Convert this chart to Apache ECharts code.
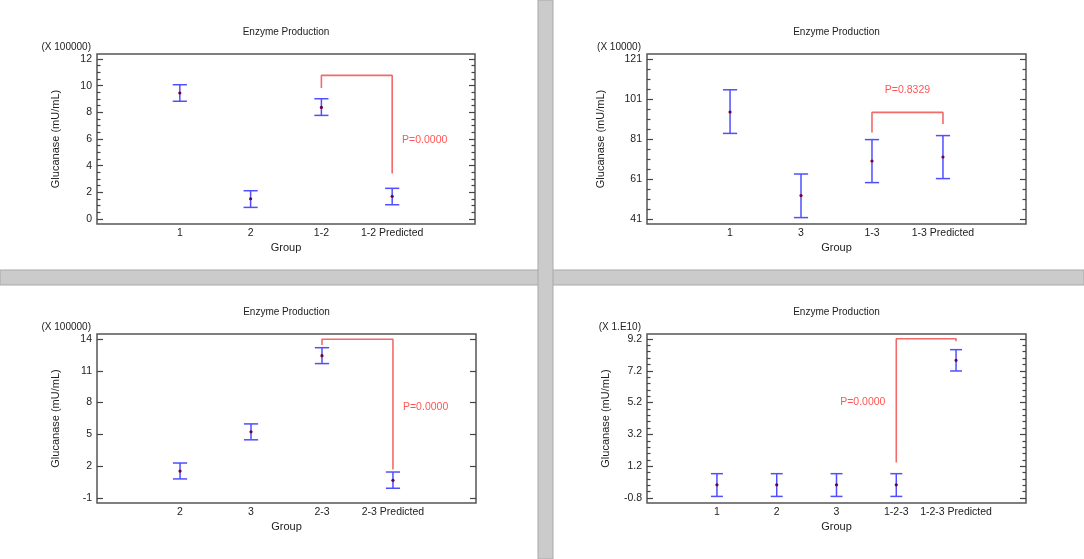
<!DOCTYPE html>
<html>
<head>
<meta charset="utf-8">
<title>Enzyme Production</title>
<style>
	html,body{margin:0;padding:0;background:#fff;}
	#chart{width:1084px;height:559px;}
</style>
</head>
<body>
<div id="chart"></div>
<script src="https://cdn.jsdelivr.net/npm/echarts@6/dist/echarts.min.js"></script>
<script>
// top left: groups 1, 2
var cats1 = ['1', '2', '1-2', '1-2 Predicted'];
var mean1 = [9.45, 1.52, 8.37, 1.70];
var low1 = [8.83, 0.87, 7.77, 1.07];
var high1 = [10.07, 2.12, 9.02, 2.30];
var ticks1 = [0, 2, 4, 6, 8, 10, 12];
var bracketX1 = [3, 4];
var bracketY1 = [9.82, 10.77, 3.42];
var pText1 = 'P=0.0000';
var pAt1 = [4.46, 5.95];

// top right: groups 1, 3
var cats2 = ['1', '3', '1-3', '1-3 Predicted'];
var mean2 = [94.5, 52.7, 70.0, 72.0];
var low2 = [83.8, 41.7, 59.2, 61.2];
var high2 = [105.6, 63.5, 80.7, 82.7];
var ticks2 = [41, 61, 81, 101, 121];
var bracketX2 = [3, 4];
var bracketY2 = [84.3, 94.3, 88.5];
var pText2 = 'P=0.8329';
var pAt2 = [3.5, 105.3];

// bottom left: groups 2, 3
var cats3 = ['2', '3', '2-3', '2-3 Predicted'];
var mean3 = [1.54, 5.24, 12.43, 0.67];
var low3 = [0.80, 4.49, 11.68, -0.08];
var high3 = [2.30, 5.99, 13.18, 1.45];
var ticks3 = [-1, 2, 5, 8, 11, 14];
var bracketX3 = [3, 4];
var bracketY3 = [13.44, 13.97, 1.70];
var pText3 = 'P=0.0000';
var pAt3 = [4.46, 7.55];

// bottom right: groups 1, 2, 3
var cats4 = ['1', '2', '3', '1-2-3', '1-2-3 Predicted'];
var mean4 = [0.03, 0.03, 0.03, 0.03, 7.86];
var low4 = [-0.70, -0.70, -0.70, -0.70, 7.19];
var high4 = [0.73, 0.73, 0.73, 0.73, 8.53];
var ticks4 = [-0.8, 1.2, 3.2, 5.2, 7.2, 9.2];
var bracketX4 = [4, 5];
var bracketY4 = [1.44, 9.22, 9.06];
var pText4 = 'P=0.0000';
var pAt4 = [3.44, 5.23];

var scaleTexts = ['(X 100000)', '(X 10000)', '(X 100000)', '(X 1.E10)'];

var FONT = 'Liberation Sans, Arial, sans-serif';
var BLUE = '#4f4fff';
var DOT = '#70003a';
var RED_LINE = '#f26a6a';
var RED_TEXT = '#ff2a2a';

// plot boxes and per panel look
var boxes = [
	{left: 97, top: 54, width: 378, height: 170},
	{left: 647, top: 54, width: 379, height: 170},
	{left: 97, top: 334, width: 379, height: 169},
	{left: 647, top: 334, width: 379, height: 169}
];
var minorStep = [0.5, 5, 0, 0.4];
var yNameGap = [36, 41, 36, 36];

var panels = [
	{cats: cats1, mean: mean1, low: low1, high: high1, ticks: ticks1, bx: bracketX1, by: bracketY1, pText: pText1, pAt: pAt1},
	{cats: cats2, mean: mean2, low: low2, high: high2, ticks: ticks2, bx: bracketX2, by: bracketY2, pText: pText2, pAt: pAt2},
	{cats: cats3, mean: mean3, low: low3, high: high3, ticks: ticks3, bx: bracketX3, by: bracketY3, pText: pText3, pAt: pAt3},
	{cats: cats4, mean: mean4, low: low4, high: high4, ticks: ticks4, bx: bracketX4, by: bracketY4, pText: pText4, pAt: pAt4}
];

function minorTicks(t, step) {
	var out = [];
	if (!step) return out;
	for (var v = t[0] + step; v < t[t.length - 1] - 1e-9; v += step) {
		var r = +v.toFixed(4);
		if (t.indexOf(r) < 0) out.push(r);
	}
	return out;
}

function renderErr(params, api) {
	var x = api.value(0);
	var pm = api.coord([x, api.value(1)]);
	var pl = api.coord([x, api.value(2)]);
	var ph = api.coord([x, api.value(3)]);
	var half = api.size([0.1, 0])[0];
	var st = {stroke: BLUE, lineWidth: 1.5};
	return {
		type: 'group',
		children: [
			{type: 'line', shape: {x1: pl[0], y1: pl[1], x2: ph[0], y2: ph[1]}, style: st},
			{type: 'line', shape: {x1: ph[0] - half, y1: ph[1], x2: ph[0] + half, y2: ph[1]}, style: st},
			{type: 'line', shape: {x1: pl[0] - half, y1: pl[1], x2: pl[0] + half, y2: pl[1]}, style: st},
			{type: 'circle', shape: {cx: pm[0], cy: pm[1], r: 1.6}, style: {fill: DOT}}
		]
	};
}

var grid = [], xAxis = [], yAxis = [], series = [], graphic = [];

panels.forEach(function (p, gi) {
	var b = boxes[gi];
	var n = p.cats.length;
	var t = p.ticks;
	var pad = (t[t.length - 1] - t[0]) * 5 / (b.height - 10);
	var yMin = t[0] - pad, yMax = t[t.length - 1] + pad;
	var minors = minorTicks(t, minorStep[gi]);
	var idx = [];
	for (var i = 1; i <= n; i++) idx.push(i);

	grid.push({left: b.left, top: b.top, width: b.width, height: b.height,
		show: true, borderColor: '#555', borderWidth: 1.5, backgroundColor: 'transparent'});

	xAxis.push({
		type: 'value', gridIndex: gi, position: 'bottom', min: 1 - 1.17, max: n + 1.17,
		axisLine: {show: false, onZero: false}, axisTick: {show: false}, splitLine: {show: false},
		axisLabel: {customValues: idx, margin: 4, color: '#222', fontSize: 10.5, fontFamily: FONT,
			formatter: function (v) { return p.cats[Math.round(v) - 1]; }},
		name: 'Group', nameLocation: 'middle', nameGap: 18,
		nameTextStyle: {color: '#222', fontSize: 11, fontFamily: FONT}
	});

	function yAx(pos, vals, len, withLabel) {
		var a = {
			type: 'value', gridIndex: gi, position: pos, min: yMin, max: yMax,
			axisLine: {show: false, onZero: false}, splitLine: {show: false},
			axisTick: {show: vals.length > 0, inside: true, length: len, customValues: vals,
				lineStyle: {color: '#444', width: 1.2}},
			axisLabel: {show: false}
		};
		if (withLabel) {
			a.axisLabel = {show: true, customValues: t, margin: 5, color: '#222', fontSize: 10.5, fontFamily: FONT};
			a.name = 'Glucanase (mU/mL)';
			a.nameLocation = 'middle';
			a.nameRotate = 90;
			a.nameGap = yNameGap[gi];
			a.nameTextStyle = {color: '#222', fontSize: 11, fontFamily: FONT};
		}
		return a;
	}
	var yi = yAxis.length;
	yAxis.push(yAx('left', t, 6, true));
	yAxis.push(yAx('left', minors, 3.5, false));
	yAxis.push(yAx('right', t, 6, false));
	yAxis.push(yAx('right', minors, 3.5, false));

	series.push({
		type: 'custom', xAxisIndex: gi, yAxisIndex: yi, renderItem: renderErr, silent: true,
		encode: {x: 0, y: [1, 2, 3]},
		data: p.cats.map(function (c, i) { return [i + 1, p.mean[i], p.low[i], p.high[i]]; })
	});
	series.push({
		type: 'line', xAxisIndex: gi, yAxisIndex: yi, symbol: 'none', silent: true,
		lineStyle: {color: RED_LINE, width: 1.6},
		data: [[p.bx[0], p.by[0]], [p.bx[0], p.by[1]], [p.bx[1], p.by[1]], [p.bx[1], p.by[2]]]
	});
	series.push({
		type: 'scatter', xAxisIndex: gi, yAxisIndex: yi, symbolSize: 1, silent: true,
		itemStyle: {color: 'rgba(0,0,0,0)'},
		label: {show: true, position: 'inside', formatter: p.pText, color: RED_TEXT, fontSize: 10.5, fontFamily: FONT},
		data: [p.pAt]
	});

	graphic.push({
		type: 'text', x: b.left + b.width / 2, y: b.top - 22,
		style: {text: 'Enzyme Production', textAlign: 'center', textVerticalAlign: 'middle',
			fill: '#222', font: '10px ' + FONT}
	});
	graphic.push({
		type: 'text', x: b.left - 6, y: b.top - 7,
		style: {text: scaleTexts[gi], textAlign: 'right', textVerticalAlign: 'middle',
			fill: '#222', font: '10px ' + FONT}
	});
});

// gray separators between the four plots
graphic.push({type: 'rect', z: 100, shape: {x: 0, y: 270, width: 1084, height: 15},
	style: {fill: '#cbcbcb', stroke: '#a9a9a9', lineWidth: 1}});
graphic.push({type: 'rect', z: 101, shape: {x: 538, y: 0, width: 15, height: 559},
	style: {fill: '#cbcbcb', stroke: '#a9a9a9', lineWidth: 1}});
graphic.push({type: 'rect', z: 102, shape: {x: 539, y: 271, width: 13, height: 13},
	style: {fill: '#cbcbcb'}});

var chart = echarts.init(document.getElementById('chart'));
chart.setOption({
	backgroundColor: '#fff',
	animation: false,
	grid: grid,
	xAxis: xAxis,
	yAxis: yAxis,
	series: series,
	graphic: graphic
});
</script>
</body>
</html>
